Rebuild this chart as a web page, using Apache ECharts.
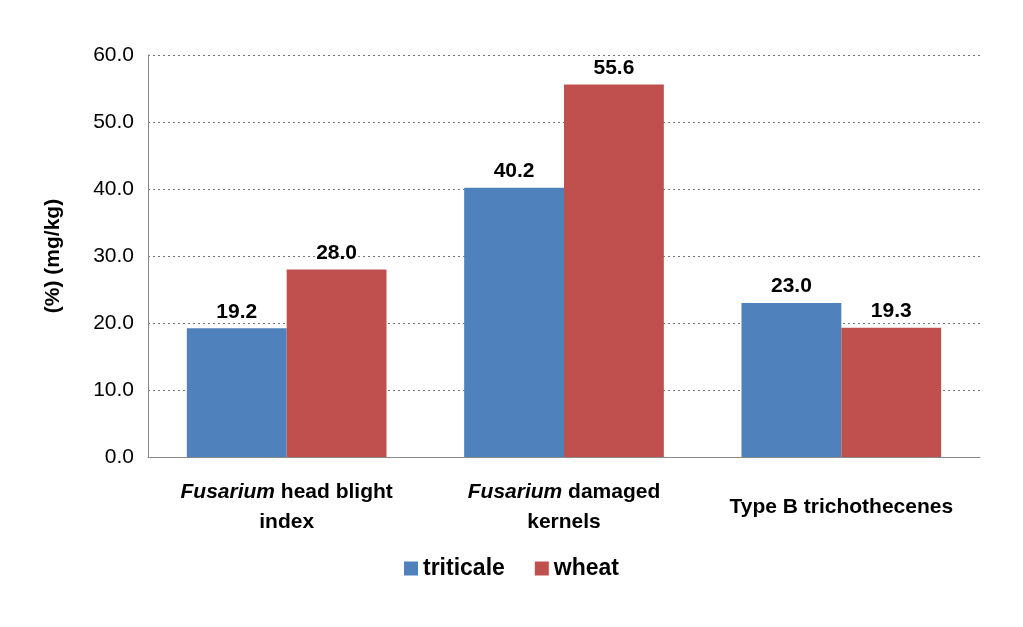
<!DOCTYPE html><html><head><meta charset="utf-8"><script src="https://cdn.jsdelivr.net/npm/echarts@6/dist/echarts.min.js"></script></head><body style="margin:0;background:#fff"><div id="c" style="width:1023px;height:627px"></div><script>
const categories=['{i|Fusarium} head blight\nindex','{i|Fusarium} damaged\nkernels','Type B trichothecenes'];
const triticale=[19.2,40.2,23.0];
const wheat=[28.0,55.6,19.3];
const yTicks={min:0,max:60,interval:10};
const F='Liberation Sans, Arial, sans-serif';
const lab={show:true,position:'top',distance:6,fontFamily:F,fontWeight:'bold',fontSize:21,color:'#000',formatter:p=>p.value.toFixed(1)};
const catData=categories.map((c,i)=>i===2?{value:c,textStyle:{padding:[15,0,0,0]}}:c);
echarts.init(document.getElementById('c')).setOption({
animation:false,
grid:{left:148,right:43,top:55,bottom:170},
legend:{bottom:42,left:'center',icon:'rect',itemWidth:14,itemHeight:14,itemGap:30,textStyle:{fontFamily:F,fontWeight:'bold',fontSize:23,color:'#000'},data:['triticale','wheat']},
xAxis:{type:'category',data:catData,axisTick:{show:false},axisLine:{lineStyle:{color:'#888'}},
axisLabel:{interval:0,margin:20,fontFamily:F,fontWeight:'bold',fontSize:21,color:'#000',lineHeight:30,
rich:{i:{fontFamily:F,fontWeight:'bold',fontStyle:'italic',fontSize:21,color:'#000',lineHeight:30}}}},
yAxis:{type:'value',...yTicks,name:'(%) (mg/kg)',nameLocation:'middle',nameGap:84,nameTextStyle:{fontFamily:F,fontWeight:'bold',fontSize:21,color:'#000'},
axisLine:{show:true,lineStyle:{color:'#888'}},axisLabel:{fontFamily:F,fontSize:21,color:'#000',formatter:v=>v.toFixed(1),margin:14},
splitLine:{lineStyle:{color:'#777',type:[2,3]}}},
series:[
{name:'triticale',type:'bar',data:triticale,itemStyle:{color:'#4F81BD'},barGap:'0%',barCategoryGap:'28%',label:lab},
{name:'wheat',type:'bar',data:wheat,itemStyle:{color:'#C0504D'},label:lab}]
});
</script></body></html>
